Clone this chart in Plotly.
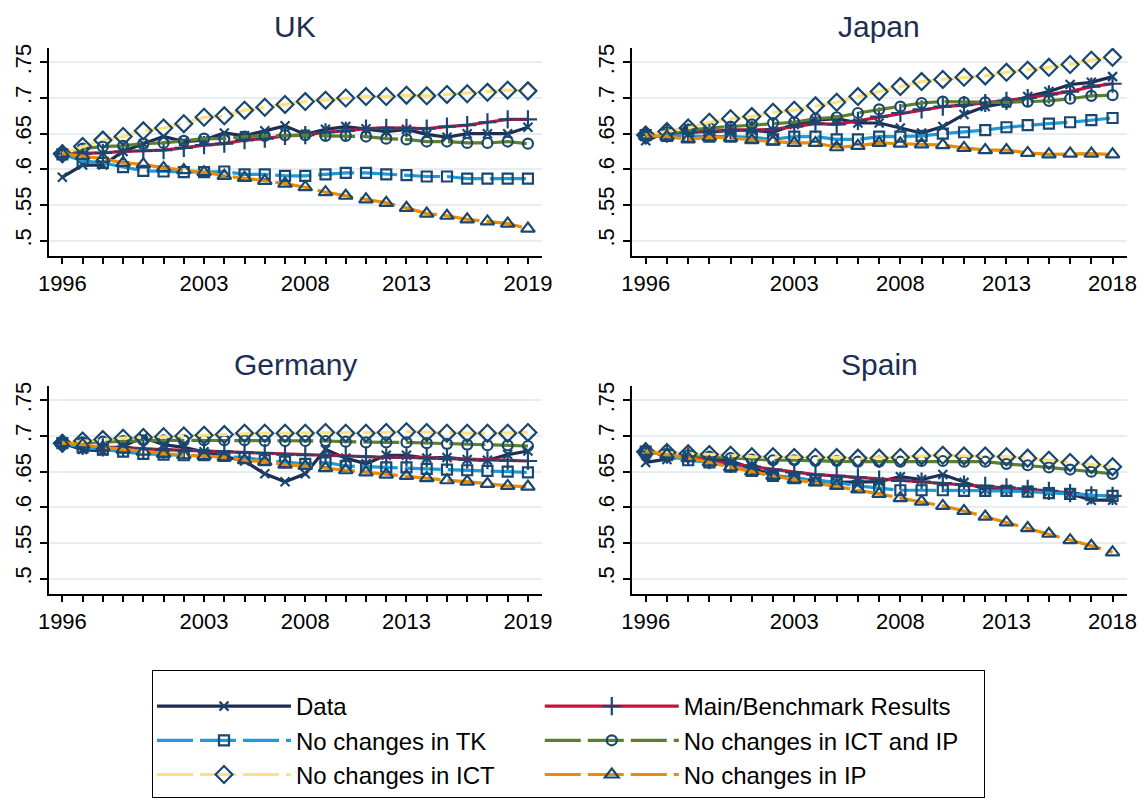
import plotly.graph_objects as go

# years on the x axis
years_uk = list(range(1996, 2020))
years_jp = list(range(1996, 2019))
years_de = list(range(1996, 2020))
years_es = list(range(1996, 2019))

# UK
uk_data = [.589, .606, .606, .625, .636, .646, .639, .641, .651, .647, .654, .661, .649, .656, .660, .657, .653, .656, .649, .645, .650, .650, .650, .659]
uk_bench = [.622, .622, .623, .625, .626, .627, .630, .634, .636, .641, .643, .647, .648, .652, .654, .657, .658, .658, .657, .660, .662, .666, .670, .670]
uk_tk = [.621, .612, .609, .603, .598, .597, .596, .596, .597, .593, .593, .591, .591, .593, .595, .595, .593, .592, .590, .590, .587, .587, .587, .587]
uk_ictip = [.622, .629, .632, .633, .636, .637, .640, .643, .643, .646, .647, .648, .648, .647, .647, .646, .643, .642, .639, .639, .637, .637, .639, .636]
uk_ict = [.622, .632, .641, .646, .654, .658, .664, .673, .675, .683, .687, .691, .695, .697, .700, .702, .702, .704, .703, .705, .706, .708, .711, .710]
uk_ip = [.622, .619, .615, .609, .607, .602, .599, .596, .591, .588, .584, .580, .575, .568, .563, .558, .553, .546, .538, .535, .530, .527, .524, .517]

# Japan
jp_data = [.640, .652, .658, .652, .655, .655, .652, .663, .669, .671, .665, .665, .658, .651, .660, .677, .688, .693, .702, .709, .719, .722, .730]
jp_bench = [.648, .650, .652, .653, .655, .655, .656, .660, .664, .663, .668, .674, .679, .684, .688, .690, .693, .696, .700, .705, .709, .716, .720]
jp_tk = [.648, .647, .646, .646, .646, .645, .642, .646, .646, .642, .642, .646, .646, .647, .650, .652, .655, .659, .662, .664, .666, .669, .672]
jp_ictip = [.648, .652, .655, .658, .660, .663, .665, .666, .671, .673, .679, .684, .688, .693, .695, .694, .694, .694, .695, .696, .699, .703, .704]
jp_ict = [.648, .653, .658, .666, .671, .674, .680, .683, .689, .694, .702, .709, .716, .723, .726, .729, .731, .736, .739, .743, .747, .753, .757]
jp_ip = [.647, .646, .642, .645, .644, .641, .639, .637, .637, .631, .633, .637, .636, .635, .634, .630, .627, .627, .623, .621, .622, .622, .621]

# Germany
de_data = [.690, .681, .679, .686, .698, .688, .684, .678, .672, .665, .647, .636, .647, .681, .669, .661, .673, .673, .669, .670, .667, .666, .674, .679]
de_bench = [.690, .686, .684, .684, .682, .681, .680, .679, .678, .677, .676, .674, .673, .673, .672, .671, .670, .670, .669, .668, .667, .666, .665, .665]
de_tk = [.690, .684, .681, .678, .675, .674, .673, .673, .672, .670, .666, .664, .661, .663, .658, .657, .656, .656, .654, .653, .652, .651, .650, .649]
de_ictip = [.690, .691, .692, .693, .694, .694, .694, .694, .694, .694, .693, .693, .693, .693, .692, .691, .691, .691, .690, .689, .688, .687, .687, .686]
de_ict = [.690, .693, .695, .697, .698, .699, .700, .701, .702, .704, .704, .704, .704, .705, .704, .704, .705, .706, .705, .704, .704, .704, .704, .705]
de_ip = [.690, .688, .684, .681, .678, .675, .673, .672, .670, .666, .664, .660, .658, .655, .652, .649, .646, .644, .641, .638, .636, .633, .630, .629]

# Spain
es_data = [.663, .667, .672, .669, .665, .655, .645, .641, .637, .635, .636, .636, .643, .639, .646, .635, .625, .625, .624, .622, .619, .610, .610]
es_bench = [.678, .674, .671, .666, .661, .657, .653, .649, .646, .644, .642, .639, .637, .636, .634, .632, .630, .628, .626, .623, .620, .617, .616]
es_tk = [.678, .673, .666, .663, .657, .651, .644, .641, .638, .635, .630, .627, .624, .624, .624, .623, .623, .623, .622, .620, .619, .617, .616]
es_ictip = [.678, .675, .673, .671, .669, .667, .666, .666, .665, .665, .664, .664, .664, .665, .665, .664, .664, .661, .659, .656, .653, .650, .647]
es_ict = [.678, .677, .675, .674, .673, .671, .671, .670, .670, .670, .669, .669, .670, .672, .673, .672, .672, .671, .669, .666, .663, .660, .657]
es_ip = [.678, .674, .669, .663, .656, .650, .644, .639, .635, .630, .625, .619, .613, .608, .602, .595, .587, .579, .571, .563, .554, .546, .537]

names = ["Data", "Main/Benchmark Results", "No changes in TK",
         "No changes in ICT and IP", "No changes in ICT", "No changes in IP"]
# legend column of each series, and trailing spaces that widen the column
legend_cols = ["left", "right", "left", "right", "left", "right"]
legend_pad = [0, 0, 0, 3, 6, 0]
colors = ["#1f2d55", "#c5123e", "#1e9bd7", "#5b7f2c", "#fde27f", "#ec8a00"]
dashes = ["solid", "solid", "36px,7px", "36px,7px", "36px,7px", "36px,7px"]
symbols = ["x-thin", "cross-thin", "square-open", "circle-open", "diamond-open", "triangle-up-open"]
sizes = [9, 13, 10, 10, 13, 12]
navy = "#1a476f"

panels = [
    ("UK", years_uk, [uk_data, uk_bench, uk_tk, uk_ictip, uk_ict, uk_ip], "x", "y"),
    ("Japan", years_jp, [jp_data, jp_bench, jp_tk, jp_ictip, jp_ict, jp_ip], "x2", "y2"),
    ("Germany", years_de, [de_data, de_bench, de_tk, de_ictip, de_ict, de_ip], "x3", "y3"),
    ("Spain", years_es, [es_data, es_bench, es_tk, es_ictip, es_ict, es_ip], "x4", "y4"),
]

# page body has an 8px margin, so the figure is drawn 8px smaller and positions shifted
OFF = 8
W, H = 1145 - OFF, 809 - OFF
font = "Liberation Sans, Arial, sans-serif"

fig = go.Figure()
for p, (title, yrs, series, xa, ya) in enumerate(panels):
    for i in range(6):
        fig.add_trace(go.Scatter(
            x=yrs, y=series[i], xaxis=xa, yaxis=ya,
            name=names[i] + "&nbsp;" * legend_pad[i],
            legendgroup=legend_cols[i],
            mode="lines+markers", showlegend=(p == 0),
            line=dict(color=colors[i], width=3.2, dash=dashes[i]),
            marker=dict(symbol=symbols[i], size=sizes[i], color=navy,
                        line=dict(color=navy, width=2.2)),
        ))

# panel placement in (window) pixels
col_x = [(49, 541.7), (631.7, 1127)]
row_y = [(47.7, 255.7), (385.7, 593.7)]
title_top = [8, 346]

ytickvals = [.5, .55, .6, .65, .7, .75]
yticktext = [".5", ".55", ".6", ".65", ".7", ".75"]

layout = dict(
    width=W, height=H, margin=dict(l=0, r=0, t=0, b=0),
    paper_bgcolor="white", plot_bgcolor="white",
    font=dict(family=font, size=22, color="black"),
    annotations=[],
)
for p, (title, yrs, series, xa, ya) in enumerate(panels):
    r, c = divmod(p, 2)
    x0, x1 = [v - OFF for v in col_x[c]]
    y0, y1 = [v - OFF for v in row_y[r]]
    last = yrs[-1]
    labelled = [1996, 2003, 2008, 2013, last]
    tv = list(yrs)
    tt = [str(v) if v in labelled else "" for v in tv]
    suffix = "" if p == 0 else str(p + 1)
    layout["xaxis" + suffix] = dict(
        domain=[x0 / W, x1 / W], anchor=ya, range=[1995.34, last + 0.68],
        tickvals=tv, ticktext=tt, ticks="outside", ticklen=7, tickwidth=1.5,
        tickcolor="black", showline=True, linecolor="black", linewidth=1.5,
        showgrid=False, zeroline=False, tickfont=dict(size=22), automargin=False,
    )
    layout["yaxis" + suffix] = dict(
        domain=[1 - y1 / H, 1 - y0 / H], anchor=xa, range=[0.479, 0.7705],
        tickvals=ytickvals, ticktext=yticktext, tickangle=-90,
        ticks="outside", ticklen=7, tickwidth=1.5, tickcolor="black",
        showline=True, linecolor="black", linewidth=1.5,
        showgrid=True, gridcolor="#e6eef2", gridwidth=1.5, zeroline=False,
        tickfont=dict(size=22), automargin=False,
    )
    layout["annotations"].append(dict(
        text=title, x=(x0 + x1) / 2 / W, y=1 - (title_top[r] - OFF) / H,
        xref="paper", yref="paper", xanchor="center", yanchor="top",
        showarrow=False, font=dict(size=30, color="#1c2f52"),
    ))

layout["legend"] = dict(
    orientation="h", x=(152 - OFF) / W, y=1 - (670 - OFF) / H,
    xanchor="left", yanchor="top",
    bordercolor="black", borderwidth=1, bgcolor="white",
    font=dict(size=24), itemwidth=134, traceorder="grouped",
    title=dict(text=" ", side="top", font=dict(size=10)),
)

fig.update_layout(**layout)
fig.write_html("out.html")
